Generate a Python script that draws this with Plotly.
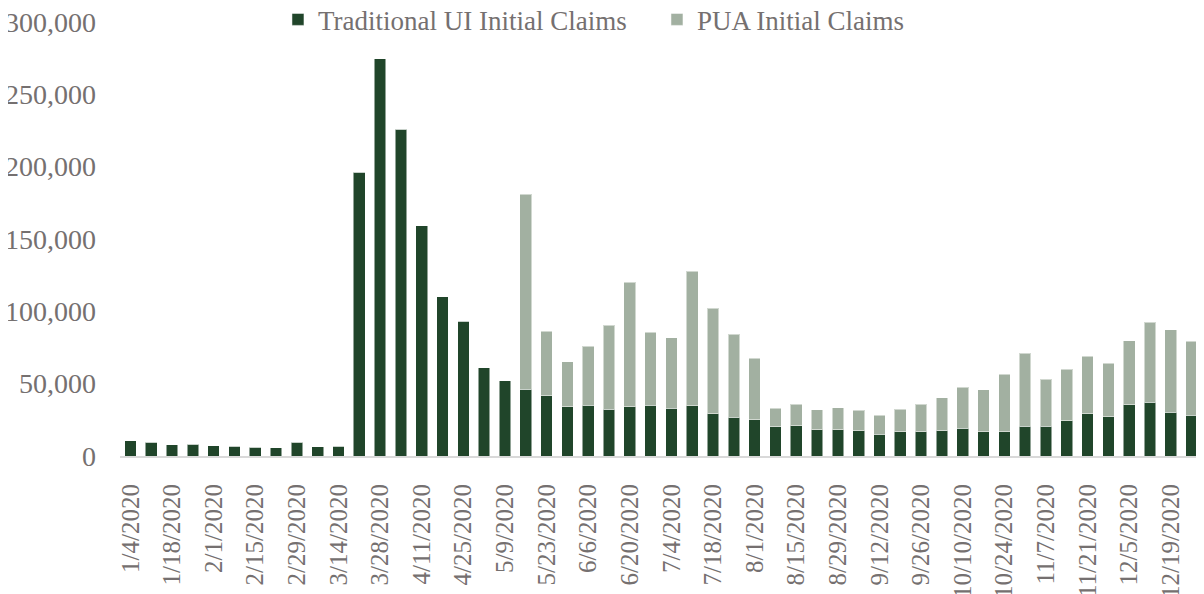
import plotly.graph_objects as go

weeks = ["1/4/2020", "1/11/2020", "1/18/2020", "1/25/2020", "2/1/2020", "2/8/2020",
         "2/15/2020", "2/22/2020", "2/29/2020", "3/7/2020", "3/14/2020", "3/21/2020",
         "3/28/2020", "4/4/2020", "4/11/2020", "4/18/2020", "4/25/2020", "5/2/2020",
         "5/9/2020", "5/16/2020", "5/23/2020", "5/30/2020", "6/6/2020", "6/13/2020",
         "6/20/2020", "6/27/2020", "7/4/2020", "7/11/2020", "7/18/2020", "7/25/2020",
         "8/1/2020", "8/8/2020", "8/15/2020", "8/22/2020", "8/29/2020", "9/5/2020",
         "9/12/2020", "9/19/2020", "9/26/2020", "10/3/2020", "10/10/2020", "10/17/2020",
         "10/24/2020", "10/31/2020", "11/7/2020", "11/14/2020", "11/21/2020", "11/28/2020",
         "12/5/2020", "12/12/2020", "12/19/2020", "12/26/2020"]

traditional_ui = [10500, 9500, 7800, 8000, 7000, 6600, 6100, 5700, 9500, 6300, 6600, 196000,
                  274500, 226000, 159000, 110000, 93000, 61000, 52000, 46000, 41700, 34100,
                  35200, 32300, 33900, 35200, 32900, 34800, 29300, 26900, 25100, 20300,
                  20800, 18000, 18000, 17300, 15200, 16600, 16800, 17500, 19300, 16600,
                  16600, 20500, 20700, 24200, 29300, 27000, 35500, 37300, 30200, 28100]

pua = [0, 0, 0, 0, 0, 0, 0, 0, 0, 0, 0, 0, 0, 0, 0, 0, 0, 0, 0,
       135000, 44500, 30900, 40600, 58200, 86100, 50300, 48900, 93000, 73000, 57400,
       42600, 12600, 15100, 14000, 15200, 14300, 13100, 15600, 18900, 22600, 28200,
       29200, 39800, 50500, 32500, 35900, 39600, 37000, 44000, 55300, 57100, 51100]

tick_labels = weeks[::2]
y_ticks = [0, 50000, 100000, 150000, 200000, 250000, 300000]

TEXT = "#757070"
FONT = "Liberation Serif"

fig = go.Figure()
fig.add_trace(go.Bar(x=weeks, y=traditional_ui, name="Traditional UI Initial Claims",
                     marker=dict(color="#20452A", line=dict(color="rgba(255,255,255,0.5)", width=1))))
fig.add_trace(go.Bar(x=weeks, y=pua, name="PUA Initial Claims",
                     marker=dict(color="#A2B0A1", line=dict(color="rgba(255,255,255,0.5)", width=1))))

# page body has an 8px default margin, so the figure is sized to fit inside the window
fig.update_layout(
    width=1196, height=586,
    barmode="stack", bargap=0.44,
    plot_bgcolor="white", paper_bgcolor="white",
    margin=dict(l=112, r=2, t=14, b=138, autoexpand=False),
    font=dict(family=FONT, color=TEXT, size=27),
    showlegend=True,
    legend=dict(orientation="h", x=0.146, xanchor="left", y=1.005, yanchor="middle",
                font=dict(family=FONT, size=27, color=TEXT), bgcolor="rgba(0,0,0,0)",
                itemwidth=30, traceorder="normal",
                entrywidth=334, entrywidthmode="pixels"),
)
fig.update_xaxes(type="category", tickmode="array", tickvals=tick_labels, ticktext=tick_labels,
                 tickangle=-90, tickfont=dict(family=FONT, size=25, color=TEXT),
                 showline=True, linecolor="#D9D9D9", linewidth=2, showgrid=False,
                 ticks="", ticklabelstandoff=16, automargin=False, ticklabeloverflow="allow")
fig.update_yaxes(range=[0, 300000], tickmode="array", tickvals=y_ticks, tickformat=",",
                 tickfont=dict(family=FONT, size=28, color=TEXT), showgrid=False,
                 zeroline=False, showline=False, ticks="", ticklabelstandoff=23,
                 automargin=False, ticklabeloverflow="allow")

fig.write_html("out.html")
